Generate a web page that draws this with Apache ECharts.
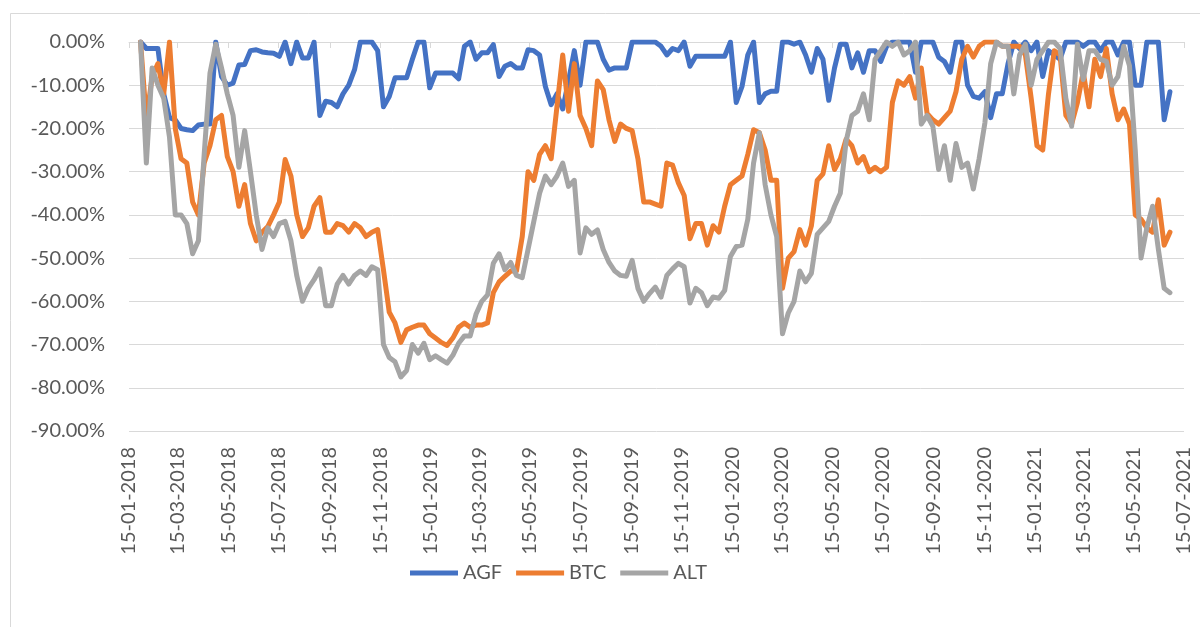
<!DOCTYPE html>
<html>
<head>
<meta charset="utf-8">
<title>Drawdown AGF / BTC / ALT</title>
<script src="https://cdn.jsdelivr.net/npm/echarts@6/dist/echarts.min.js"></script>
<style>
  html, body { margin: 0; padding: 0; background: #fff; }
  #chart { width: 1200px; height: 627px; }
</style>
</head>
<body>
<div id="chart"></div>
<script>

// 数据
//-------

// first weekly sample, one value per week after it
var startDate = '2018-01-29';

// axis ends and tick labels (every 2 months)
var axisStart = '2018-01-15';
var axisEnd = '2021-07-15';
var tickDates = [
  '2018-01-15', '2018-03-15', '2018-05-15', '2018-07-15', '2018-09-15', '2018-11-15',
  '2019-01-15', '2019-03-15', '2019-05-15', '2019-07-15', '2019-09-15', '2019-11-15',
  '2020-01-15', '2020-03-15', '2020-05-15', '2020-07-15', '2020-09-15', '2020-11-15',
  '2021-01-15', '2021-03-15', '2021-05-15', '2021-07-15'
];

var seriesNames = ['AGF', 'BTC', 'ALT'];

// drawdown in %, weekly
var agf = [
  0, -1.5, -1.5, -1.5, -12, -17.5, -18, -20, -20.3, -20.5,
  -19.2, -19, -19, 0, -8, -10, -9.5, -5.3, -5.2, -2,
  -1.8, -2.3, -2.5, -2.6, -3.3, 0, -5, 0, -3.7, -3.7,
  0, -17, -13.7, -14, -15, -12, -10, -6.4, 0, 0,
  0, -2, -15, -12.6, -8.3, -8.3, -8.3, -4, 0, 0,
  -10.6, -7.2, -7.2, -7.2, -7.2, -8.5, -1, 0, -4, -2.5,
  -2.5, -0.6, -8, -5.6, -5, -6, -6, -1.8, -2, -3,
  -10.3, -14.5, -12, -15.5, -9, -2, -10, 0, 0, 0,
  -4, -6.5, -6, -6, -6, 0, 0, 0, 0, 0,
  -1, -3, -1.5, -2, 0, -5.6, -3.3, -3.3, -3.3, -3.3,
  -3.3, -3.3, 0, -14, -10.3, -3, 0, -14, -12, -11.4,
  -11.4, 0, 0, -0.5, 0, -3, -7, -1.5, -4, -13.5,
  -6, -0.5, -0.5, -6, -2.5, -7, -2, -2, -4.5, -1,
  0, 0, 0, 0, -7, 0, 0, 0, -3.5, -4.5,
  -7, 0, 0, -10, -12.6, -13, -11.5, -17.5, -12, -12,
  -5, 0, -1.5, 0, -2, 0, -8, -2, -3, -4,
  0, 0, 0, -1, 0, 0, -2, 0, 0, -3,
  0, 0, -10, -10, 0, 0, 0, -18, -11.5
];

var btc = [
  0, -18, -8, -5, -12, 0, -20, -27, -28, -37,
  -40, -28, -24, -18, -17, -26.5, -30, -38, -33, -42,
  -46, -44, -42.7, -40, -37, -27.2, -31, -40, -45, -43,
  -38, -36, -44, -44, -42, -42.5, -44, -42, -43, -45,
  -44, -43.4, -52.7, -62.5, -65, -69.5, -66.6, -66, -65.5, -65.5,
  -67.5, -68.5, -69.5, -70.2, -68.5, -66, -65, -66, -65.5, -65.5,
  -65, -58, -55.5, -54.2, -53, -53, -45, -30, -32, -26,
  -24, -27, -15, -3, -16, -5, -17, -20, -24, -9,
  -11, -18, -23, -19, -20, -20.5, -27, -37, -37, -37.5,
  -38, -28, -28.5, -32.6, -35.5, -45.5, -42, -42, -47, -42.5,
  -44, -38, -33, -32, -31, -26, -20.3, -21, -25, -32,
  -32, -57, -50, -48.5, -43.4, -47, -42.5, -32, -30.5, -24,
  -29.5, -27, -22.5, -24, -28, -26.5, -30, -29, -30, -29,
  -14, -9, -10, -8, -13, -6, -16.5, -18, -19, -17.5,
  -16, -11.5, -4, -1, -3.5, -1, 0, 0, 0, -1,
  -1, -1, -1, -3, -13, -24, -25, -12, -2, -3,
  -17, -19, -14, -7, -15, -4, -8, -1.5, -12, -18,
  -15.5, -19, -40, -41, -43, -44, -36.5, -47, -44
];

var alt = [
  0, -28, -6, -10, -13, -22, -40, -40, -42, -49,
  -46, -26, -7.2, -0.5, -6, -12, -17, -29, -20.5, -30,
  -40, -48, -43, -45, -42, -41.5, -46, -54, -60, -57,
  -55, -52.5, -61, -61, -56, -54, -56, -54, -53, -54,
  -52, -52.7, -70, -73, -74, -77.5, -76, -70, -72, -69.7,
  -73.5, -72.6, -73.5, -74.3, -72.5, -69.7, -68, -68, -63, -60,
  -58.5, -51.2, -49, -52.7, -51, -54, -54.5, -48, -41.5, -35,
  -31, -33, -31, -28, -33.4, -32, -48.8, -43, -44.5, -43.5,
  -48, -51, -53, -54, -54.2, -50.5, -57, -60, -58.2, -56.7,
  -59, -54, -52.5, -51.2, -52, -60.4, -57, -58, -61, -59,
  -59.3, -57.5, -49.6, -47.3, -47, -41, -28, -21, -33, -40,
  -45, -67.5, -62.7, -60, -53, -55.5, -53.5, -44.5, -43, -41.5,
  -38, -35, -23, -17, -16, -12, -18, -4, -2, 0,
  -1, 0, -3, -2, 0, -19, -17, -19.5, -29.5, -24,
  -32, -23.5, -29, -28, -34, -27, -18.7, -5, 0, -1,
  -1, -12, -3, -0.5, -10, -4, -2, 0, 0, -1.5,
  -13, -19.5, -0.5, -8.7, -2, -2, -4, -4.5, -10, -8,
  -1, -5.5, -25, -50, -43, -38, -48, -57, -58
];


// 工具
//-------

var parseDay = function(s) {
  var p = s.split('-');
  return new Date(+p[0], p[1] - 1, +p[2]).getTime();
};

var pad = function(n) {
  return n < 10 ? '0' + n : '' + n;
};

var fmtDay = function(v) {
  var d = new Date(v);
  return pad(d.getDate()) + '-' + pad(d.getMonth() + 1) + '-' + d.getFullYear();
};

// weekly dates
var dates = [];
for (var i = 0; i < agf.length; i++) {
  var d = new Date(parseDay(startDate));
  d.setDate(d.getDate() + 7 * i);
  dates.push(d.getTime());
}

var pairs = function(vals) {
  return vals.map(function(v, i) { return [dates[i], v]; });
};

var tickValues = tickDates.map(parseDay);


// 图表
//-------

var font = 'Lato, "Liberation Sans", sans-serif';
var textColor = '#595959';
var gridColor = '#d9d9d9';
var colors = ['#4472c4', '#ed7d31', '#a5a5a5'];
var lines = [agf, btc, alt];

var myChart = echarts.init(document.getElementById('chart'));

var option = {
  animation: false,
  backgroundColor: '#fff',
  grid: {
    left: 129,
    right: 16,
    top: 42,
    bottom: 196,
    containLabel: false,
    outerBoundsMode: 'none'
  },
  graphic: [
    {
      type: 'rect',
      silent: true,
      z: -10,
      shape: { x: 10.5, y: 13.5, width: 1300, height: 700 },
      style: { fill: 'none', stroke: gridColor, lineWidth: 1 }
    }
  ],
  legend: {
    data: seriesNames,
    left: 405,
    top: 558,
    icon: 'rect',
    itemWidth: 48,
    itemHeight: 5,
    itemGap: 14,
    textStyle: { color: textColor, fontSize: 20, fontFamily: font }
  },
  // dates are timestamps on a value axis, ticks at the 15th of every other month
  xAxis: [
    {
      type: 'value',
      position: 'bottom',
      min: parseDay(axisStart),
      max: parseDay(axisEnd),
      axisLine: { show: false, onZero: false },
      axisTick: { show: false },
      splitLine: { show: false },
      axisLabel: {
        customValues: tickValues,
        rotate: 90,
        margin: 16,
        color: textColor,
        fontSize: 20,
        fontFamily: font,
        formatter: fmtDay
      }
    },
    {
      type: 'value',
      position: 'top',
      min: parseDay(axisStart),
      max: parseDay(axisEnd),
      axisLine: { show: true, onZero: false, lineStyle: { color: gridColor, width: 1 } },
      axisTick: {
        show: true,
        customValues: tickValues,
        inside: true,
        length: 6,
        lineStyle: { color: gridColor, width: 1 }
      },
      axisLabel: { show: false },
      splitLine: { show: false }
    }
  ],
  yAxis: {
    type: 'value',
    min: -90,
    max: 0,
    interval: 10,
    axisLine: { show: false },
    axisTick: { show: false },
    splitLine: { lineStyle: { color: gridColor, width: 1 } },
    axisLabel: {
      margin: 24,
      color: textColor,
      fontSize: 20,
      fontFamily: font,
      formatter: function(v) { return v.toFixed(2) + '%'; }
    }
  },
  series: seriesNames.map(function(name, k) {
    return {
      name: name,
      type: 'line',
      xAxisIndex: 0,
      showSymbol: false,
      symbol: 'none',
      itemStyle: { color: colors[k] },
      lineStyle: { color: colors[k], width: 5, join: 'round', cap: 'round' },
      data: pairs(lines[k])
    };
  })
};

myChart.setOption(option);

</script>
</body>
</html>
